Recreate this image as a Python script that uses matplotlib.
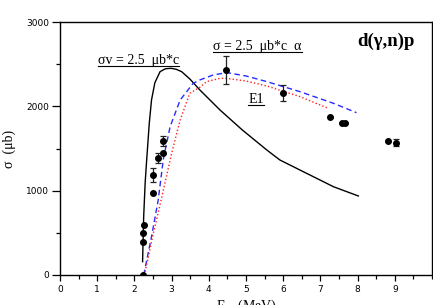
import matplotlib
matplotlib.use("Agg")
import matplotlib.pyplot as plt
from matplotlib.lines import Line2D
from matplotlib.ticker import MultipleLocator

# measured points (E in MeV, sigma in microbarn)
data_e = [2.22, 2.24, 2.24, 2.27, 2.51, 2.51, 2.63, 2.77, 2.77, 4.46, 5.99, 7.26, 7.59, 7.65, 8.81, 9.02]
data_s = [0, 395, 502, 589, 969, 1186, 1384, 1451, 1585, 2428, 2162, 1878, 1806, 1806, 1585, 1569]
data_err = [0, 0, 0, 0, 0, 80, 60, 0, 60, 168, 95, 0, 0, 0, 0, 40]

# sigma*v = const curve (black solid)
sv_e = [2.22, 2.25, 2.29, 2.33, 2.40, 2.46, 2.55, 2.69, 2.83, 2.98, 3.12, 3.27, 3.50, 3.76, 4.30, 4.90, 5.56, 5.91, 6.45, 7.35, 8.02]
sv_s = [158, 700, 1100, 1364, 1800, 2075, 2280, 2411, 2445, 2451, 2440, 2411, 2320, 2194, 1957, 1720, 1482, 1364, 1245, 1047, 937]

# sigma = const * alpha curve (blue dashed)
al_e = [2.24, 2.26, 2.46, 2.64, 2.78, 2.96, 3.23, 3.58, 3.76, 4.12, 4.48, 5.00, 5.56, 6.45, 7.35, 7.97]
al_s = [0, 20, 454, 890, 1380, 1759, 2075, 2273, 2313, 2372, 2400, 2360, 2293, 2174, 2036, 1925]

# E1 curve (red dotted)
e1_e = [2.25, 2.28, 2.51, 2.78, 3.00, 3.23, 3.49, 3.76, 3.94, 4.30, 4.48, 5.00, 5.56, 6.45, 7.21]
e1_s = [0, 20, 494, 1008, 1440, 1838, 2155, 2226, 2293, 2332, 2332, 2300, 2241, 2115, 1977]

fig = plt.figure(figsize=(4.33, 3.05), dpi=100)
ax = fig.add_axes([60 / 433, 30 / 305, 372 / 433, 253 / 305])

ax.plot(sv_e, sv_s, color="black", lw=1.0)
ax.plot(al_e, al_s, color="#2a2aff", lw=1.0, ls=(0, (4, 2.5)))
ax.plot(e1_e, e1_s, color="#ff2020", lw=1.0, ls=(0, (1, 1.6)))
ax.errorbar(data_e, data_s, yerr=data_err, fmt="o", color="black", ms=4,
            ecolor="#222222", elinewidth=0.9, capsize=2.5, capthick=0.9, zorder=5)

ax.set_xlim(0, 10)
ax.set_ylim(0, 3000)
ax.xaxis.set_major_locator(MultipleLocator(1))
ax.xaxis.set_minor_locator(MultipleLocator(0.5))
ax.yaxis.set_major_locator(MultipleLocator(1000))
ax.yaxis.set_minor_locator(MultipleLocator(500))
ax.set_xticks(range(0, 10))
ax.tick_params(axis="both", labelsize=6.5, direction="out", width=0.9)
ax.tick_params(axis="x", which="major", length=4, pad=3)
ax.tick_params(axis="y", which="major", length=6, pad=2)
ax.tick_params(which="minor", length=3, width=0.9)
for s in ax.spines.values():
    s.set_linewidth(1.0)

serif = "Liberation Serif"
ax.set_ylabel("σ  (μb)", family=serif, fontsize=10, labelpad=7)
ax.set_xlabel("E$_{\\gamma}$  (MeV)", family=serif, fontsize=10, labelpad=3)

t1 = ax.text(1.01, 2549, "σv = 2.5  μb*c", family=serif, fontsize=10, va="center")
t2 = ax.text(4.12, 2708, "σ = 2.5  μb*c  α", family=serif, fontsize=10, va="center")
t3 = ax.text(5.06, 2084, "E1", family=serif, fontsize=10, va="center")
ax.text(8.0, 2767, "d(γ,n)p", family=serif, fontsize=13.5, fontweight="bold", va="center")

# underline the curve labels
fig.canvas.draw()
r = fig.canvas.get_renderer()
for t in (t1, t2, t3):
    bb = t.get_window_extent(r)
    y = (bb.y0 + 1) / fig.bbox.height
    fig.add_artist(Line2D([bb.x0 / fig.bbox.width, bb.x1 / fig.bbox.width], [y, y],
                          color="black", lw=0.8))

fig.savefig("out.png", dpi=100)
